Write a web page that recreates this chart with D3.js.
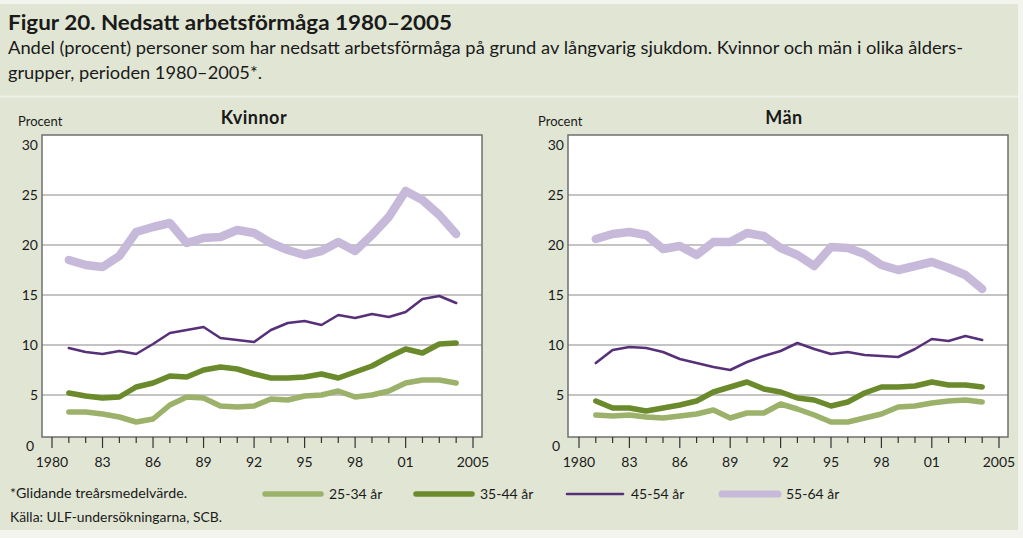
<!DOCTYPE html>
<html><head><meta charset="utf-8">
<script src="https://cdn.jsdelivr.net/npm/d3@7"></script>
<style>
html,body{margin:0;padding:0;background:#fff;}
svg{display:block;}
text{font-family:Lato,"Open Sans",sans-serif;fill:#1a1a1a;}
</style></head><body>
<svg id="c" width="1023" height="538"></svg>
<script>
const years = d3.range(1981, 2005);
const seriesNames = ["25-34 år", "35-44 år", "45-54 år", "55-64 år"];
const kv25 = [3.3,3.3,3.1,2.8,2.3,2.6,4.0,4.8,4.7,3.9,3.8,3.9,4.6,4.5,4.9,5.0,5.4,4.8,5.0,5.4,6.2,6.5,6.5,6.2];
const kv35 = [5.2,4.9,4.7,4.8,5.8,6.2,6.9,6.8,7.5,7.8,7.6,7.1,6.7,6.7,6.8,7.1,6.7,7.3,7.9,8.8,9.6,9.2,10.1,10.2];
const kv45 = [9.7,9.3,9.1,9.4,9.1,10.1,11.2,11.5,11.8,10.7,10.5,10.3,11.5,12.2,12.4,12.0,13.0,12.7,13.1,12.8,13.3,14.6,14.9,14.2];
const kv55 = [18.5,18.0,17.8,18.9,21.3,21.8,22.2,20.2,20.7,20.8,21.5,21.2,20.2,19.5,19.0,19.4,20.3,19.4,21.0,22.8,25.4,24.5,23.0,21.1];
const ma25 = [3.0,2.9,3.0,2.8,2.7,2.9,3.1,3.5,2.7,3.2,3.2,4.1,3.6,3.0,2.3,2.3,2.7,3.1,3.8,3.9,4.2,4.4,4.5,4.3];
const ma35 = [4.4,3.7,3.7,3.4,3.7,4.0,4.4,5.3,5.8,6.3,5.6,5.3,4.7,4.5,3.9,4.3,5.2,5.8,5.8,5.9,6.3,6.0,6.0,5.8];
const ma45 = [8.2,9.5,9.8,9.7,9.3,8.6,8.2,7.8,7.5,8.3,8.9,9.4,10.2,9.6,9.1,9.3,9.0,8.9,8.8,9.6,10.6,10.4,10.9,10.5];
const ma55 = [20.6,21.1,21.3,21.0,19.6,19.9,19.0,20.3,20.3,21.2,20.9,19.7,19.0,17.9,19.8,19.7,19.1,18.0,17.5,17.9,18.3,17.7,17.0,15.6];
const yTicks = [0,5,10,15,20,25,30];
const xTickLabels = [[1980,"1980"],[1983,"83"],[1986,"86"],[1989,"89"],[1992,"92"],[1995,"95"],[1998,"98"],[2001,"01"],[2005,"2005"]];
const panels = [
  {title:"Kvinnor", data:[kv25,kv35,kv45,kv55]},
  {title:"Män", data:[ma25,ma35,ma45,ma55]}
];

const styles = [
  {color:"#9cb26b", width:5.5},
  {color:"#6a8a2c", width:5.5},
  {color:"#57307a", width:2.6},
  {color:"#c6b9d9", width:8.5}
];

const svg = d3.select("#c");
svg.append("rect").attr("x",0).attr("y",0).attr("width",1023).attr("height",538).attr("fill","#f3f4ee");
svg.append("rect").attr("x",0).attr("y",4).attr("width",1018).attr("height",526).attr("fill","#e1e6d4");
svg.append("line").attr("x1",0).attr("x2",1018).attr("y1",96.5).attr("y2",96.5).attr("stroke","#eef0e7").attr("stroke-width",2);

svg.append("text").attr("x",8).attr("y",30).attr("font-size",21).attr("font-weight","bold")
  .attr("textLength",444).attr("lengthAdjust","spacingAndGlyphs").text("Figur 20. Nedsatt arbetsförmåga 1980–2005");
svg.append("text").attr("x",8).attr("y",54).attr("font-size",16.5)
  .attr("textLength",955).attr("lengthAdjust","spacingAndGlyphs")
  .text("Andel (procent) personer som har nedsatt arbetsförmåga på grund av långvarig sjukdom. Kvinnor och män i olika ålders-");
svg.append("text").attr("x",8).attr("y",79).attr("font-size",16.5)
  .attr("textLength",254).attr("lengthAdjust","spacingAndGlyphs").text("grupper, perioden 1980–2005*.");

const frames = [{x0:42,x1:482,xa:52,xb:473,px:18},{x0:568,x1:1008,xa:579,xb:999,px:538}];
const yTop = 135, yBot = 437;
const y = d3.scaleLinear().domain([0,30]).range([445,145]);

panels.forEach((p,i)=>{
  const f = frames[i];
  const x = d3.scaleLinear().domain([1980,2005]).range([f.xa,f.xb]);
  const g = svg.append("g");
  g.append("rect").attr("x",f.x0).attr("y",yTop).attr("width",f.x1-f.x0).attr("height",yBot-yTop).attr("fill","#fff");
  g.selectAll(".grid").data(yTicks.filter(t=>t>0 && t<30)).join("line")
    .attr("x1",f.x0).attr("x2",f.x1).attr("y1",d=>y(d)).attr("y2",d=>y(d))
    .attr("stroke","#8a8a8a").attr("stroke-width",1.2);
  g.selectAll(".yl").data(yTicks).join("text")
    .attr("x",f.x0-4).attr("y",d=>d===0?y(d)+6:y(d)+5).attr("text-anchor","end").attr("font-size",14)
    .attr("dx",d=>d===0?-4:0)
    .text(d=>d);
  const line = d3.line().x((d,k)=>x(years[k])).y(d=>y(d)).curve(d3.curveLinear);
  [3,2,1,0].forEach(s=>{
    g.append("path").attr("d",line(p.data[s])).attr("fill","none")
      .attr("stroke",styles[s].color).attr("stroke-width",styles[s].width)
      .attr("stroke-linejoin","round").attr("stroke-linecap","round");
  });
  g.append("rect").attr("x",f.x0).attr("y",yTop).attr("width",f.x1-f.x0).attr("height",yBot-yTop)
    .attr("fill","none").attr("stroke","#6f6f6f").attr("stroke-width",1.5);
  const labeled = new Set(xTickLabels.map(d=>d[0]));
  g.selectAll(".xt").data(d3.range(1980,2006)).join("line")
    .attr("x1",d=>x(d)).attr("x2",d=>x(d)).attr("y1",yBot).attr("y2",d=>labeled.has(d)?yBot+11:yBot+6)
    .attr("stroke","#333").attr("stroke-width",1.2);
  g.selectAll(".xl").data(xTickLabels).join("text")
    .attr("x",d=>x(d[0])).attr("y",467).attr("text-anchor","middle").attr("font-size",14)
    .text(d=>d[1]);
  g.append("text").attr("x",f.px).attr("y",126).attr("font-size",13).text("Procent");
  g.append("text").attr("x",(f.x0+f.x1)/2 - (i===0?8:4)).attr("y",124).attr("text-anchor","middle")
    .attr("font-size",18).attr("font-weight","bold").attr("letter-spacing",0.5).text(p.title);
});

const legX = [265, 416, 567, 722];
seriesNames.forEach((n,s)=>{
  svg.append("line").attr("x1",legX[s]).attr("x2",legX[s]+56).attr("y1",494).attr("y2",494)
    .attr("stroke",styles[s].color).attr("stroke-width",Math.min(styles[s].width,7)).attr("stroke-linecap","round");
  svg.append("text").attr("x",legX[s]+64).attr("y",499).attr("font-size",14).text(n);
});
svg.append("text").attr("x",10).attr("y",498).attr("font-size",13)
  .attr("textLength",177).attr("lengthAdjust","spacingAndGlyphs").text("*Glidande treårsmedelvärde.");
svg.append("text").attr("x",10).attr("y",522).attr("font-size",13)
  .attr("textLength",212).attr("lengthAdjust","spacingAndGlyphs").text("Källa: ULF-undersökningarna, SCB.");
</script>
</body></html>
